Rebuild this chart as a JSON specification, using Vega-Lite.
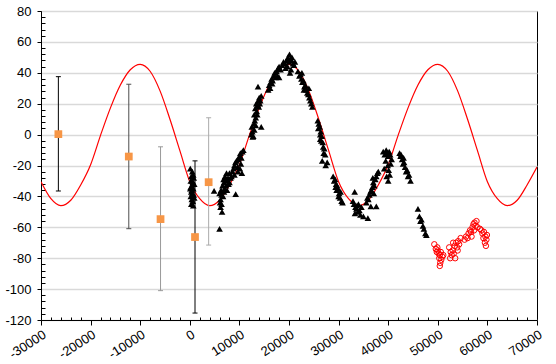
{
"$schema": "https://vega.github.io/schema/vega-lite/v6.json",
"width": 496, "height": 309, "autosize": "none",
"padding": {"left": 41, "top": 11, "right": 19, "bottom": 44},
"background": "white",
"config": {"view": {"stroke": "black", "strokeWidth": 1},
  "axis": {"labelFont": "Liberation Sans", "labelFontSize": 13, "labelColor": "black", "domainColor": "black", "tickColor": "black", "domainWidth": 1, "tickWidth": 1}},
"datasets": {
"curve": [
{"x":-30000,"y":-30.5},{"x":-28000,"y":-41.5},{"x":-26000,"y":-46},{"x":-24000,"y":-42.5},{"x":-22000,"y":-32.6},{"x":-20000,"y":-19.5},{"x":-18000,"y":-0.5},{"x":-16000,"y":17.3},{"x":-14000,"y":32.1},{"x":-12000,"y":42},{"x":-10000,"y":45.5},{"x":-8000,"y":41},{"x":-6000,"y":28.3},{"x":-4000,"y":9.9},{"x":-2000,"y":-10.4},{"x":0,"y":-30.5},{"x":2000,"y":-41.5},{"x":4000,"y":-46},{"x":6000,"y":-42.5},{"x":8000,"y":-32.6},{"x":10000,"y":-19.5},{"x":12000,"y":-0.5},{"x":14000,"y":17.3},{"x":16000,"y":32.1},{"x":18000,"y":42},{"x":20000,"y":45.5},{"x":22000,"y":41},{"x":24000,"y":28.3},{"x":26000,"y":9.9},{"x":28000,"y":-10.4},{"x":30000,"y":-30.5},{"x":32000,"y":-41.5},{"x":34000,"y":-46},{"x":36000,"y":-42.5},{"x":38000,"y":-32.6},{"x":40000,"y":-19.5},{"x":42000,"y":-0.5},{"x":44000,"y":17.3},{"x":46000,"y":32.1},{"x":48000,"y":42},{"x":50000,"y":45.5},{"x":52000,"y":41},{"x":54000,"y":28.3},{"x":56000,"y":9.9},{"x":58000,"y":-10.4},{"x":60000,"y":-30.5},{"x":62000,"y":-41.5},{"x":64000,"y":-46},{"x":66000,"y":-42.5},{"x":68000,"y":-32.6},{"x":70000,"y":-21}
],
"tri": [
{"x":100,"y":-22},{"x":500,"y":-24},{"x":300,"y":-27},{"x":800,"y":-28},{"x":200,"y":-30},{"x":600,"y":-31},{"x":400,"y":-33},{"x":900,"y":-32},{"x":100,"y":-35},{"x":700,"y":-35},{"x":300,"y":-37},{"x":500,"y":-38},{"x":200,"y":-40},{"x":800,"y":-39},{"x":400,"y":-42},{"x":600,"y":-43},{"x":300,"y":-45},{"x":700,"y":-46},{"x":500,"y":-30},{"x":200,"y":-34},{"x":700,"y":-26},{"x":400,"y":-36},{"x":900,"y":-41},
{"x":4900,"y":-36.5},{"x":6000,"y":-61},{"x":9250,"y":-38.6},{"x":6000,"y":-38},{"x":6200,"y":-42},{"x":6400,"y":-45},{"x":6200,"y":-47},{"x":6500,"y":-50},{"x":6100,"y":-44},{"x":6700,"y":-40},{"x":6300,"y":-36},{"x":6600,"y":-33},{"x":6900,"y":-31},{"x":7200,"y":-29},{"x":7400,"y":-25},{"x":7000,"y":-35},{"x":7300,"y":-33},{"x":7600,"y":-30},{"x":7100,"y":-27},{"x":6800,"y":-29},{"x":7500,"y":-36},{"x":7800,"y":-32},{"x":8000,"y":-31},{"x":8200,"y":-28},{"x":8400,"y":-27},{"x":8000,"y":-25},{"x":8600,"y":-24},{"x":8800,"y":-22},{"x":9000,"y":-20},{"x":9200,"y":-18},{"x":9400,"y":-17},{"x":9000,"y":-26},{"x":9600,"y":-21},{"x":9800,"y":-16},{"x":10000,"y":-14},{"x":10200,"y":-12},{"x":10400,"y":-15},{"x":10600,"y":-11},{"x":10800,"y":-10},{"x":10300,"y":-19},{"x":10100,"y":-22},{"x":9700,"y":-24},{"x":10500,"y":-25},{"x":6400,"y":-39},{"x":6900,"y":-37},{"x":7700,"y":-28},
{"x":12400,"y":0},{"x":12600,"y":2},{"x":12800,"y":-1},{"x":12500,"y":5},{"x":12900,"y":7},{"x":13100,"y":9},{"x":13300,"y":11},{"x":13000,"y":13},{"x":13500,"y":15},{"x":13200,"y":17},{"x":13700,"y":19},{"x":13400,"y":20},{"x":13800,"y":22},{"x":14000,"y":24},{"x":14200,"y":22},{"x":13600,"y":13},{"x":14400,"y":25},{"x":13750,"y":31},{"x":14400,"y":5},{"x":13000,"y":3},{"x":12700,"y":-1.5},{"x":13900,"y":18},{"x":13300,"y":6},{"x":14100,"y":20},
{"x":15800,"y":29},{"x":16000,"y":32},{"x":16200,"y":30},{"x":16300,"y":34},{"x":16500,"y":36},{"x":16700,"y":35},{"x":16900,"y":38},{"x":17100,"y":40},{"x":17300,"y":37},{"x":17500,"y":41},{"x":17800,"y":43},{"x":18000,"y":44},{"x":17700,"y":38},{"x":18300,"y":42},{"x":18600,"y":45},{"x":18900,"y":47},{"x":19200,"y":46},{"x":19500,"y":48},{"x":19800,"y":50},{"x":20100,"y":52},{"x":20300,"y":49},{"x":20000,"y":47},{"x":20500,"y":48},{"x":20800,"y":46},{"x":21000,"y":45},{"x":19700,"y":44},{"x":20400,"y":42},{"x":20200,"y":40},{"x":19300,"y":43},{"x":21200,"y":47},{"x":20600,"y":50},{"x":18000,"y":37},{"x":16600,"y":33},
{"x":21800,"y":41},{"x":22100,"y":38},{"x":22300,"y":39},{"x":22500,"y":36},{"x":22700,"y":34},{"x":22900,"y":35},{"x":23100,"y":31},{"x":23300,"y":32},{"x":23500,"y":29},{"x":23700,"y":27},{"x":23900,"y":26},{"x":24100,"y":24},{"x":24300,"y":22},{"x":24500,"y":20},{"x":24700,"y":18},{"x":22600,"y":40},{"x":23000,"y":29},{"x":24000,"y":30},
{"x":25800,"y":9},{"x":26000,"y":7},{"x":25900,"y":4},{"x":26200,"y":5},{"x":26400,"y":2},{"x":26300,"y":0},{"x":26600,"y":-1},{"x":26500,"y":-4},{"x":26800,"y":-5},{"x":26900,"y":-8},{"x":27100,"y":-9},{"x":27000,"y":-12},{"x":27300,"y":-13},{"x":26700,"y":-17},{"x":27400,"y":-20},{"x":27700,"y":-18},{"x":26300,"y":-3},
{"x":28900,"y":-27},{"x":29100,"y":-30},{"x":29300,"y":-29},{"x":29500,"y":-32},{"x":29700,"y":-33},{"x":29600,"y":-36},{"x":29900,"y":-35},{"x":30100,"y":-38},{"x":30000,"y":-40},{"x":30300,"y":-41},{"x":30600,"y":-43},{"x":30400,"y":-37},{"x":29400,"y":-34},{"x":30800,"y":-44},
{"x":32900,"y":-43},{"x":33100,"y":-45},{"x":33400,"y":-47},{"x":33600,"y":-48},{"x":33900,"y":-50},{"x":34200,"y":-49},{"x":34400,"y":-52},{"x":33700,"y":-46},{"x":34000,"y":-45},{"x":33300,"y":-51},{"x":34600,"y":-47},{"x":33240,"y":-37},{"x":35000,"y":-53},
{"x":35600,"y":-44},{"x":35800,"y":-41},{"x":36000,"y":-42},{"x":36200,"y":-39},{"x":36400,"y":-37},{"x":36600,"y":-36},{"x":36800,"y":-34},{"x":37000,"y":-31},{"x":37200,"y":-33},{"x":37400,"y":-29},{"x":37600,"y":-27},{"x":37800,"y":-25},{"x":38000,"y":-24},{"x":36500,"y":-46.5},{"x":37600,"y":-46.5},{"x":35900,"y":-54},{"x":37100,"y":-38},{"x":36900,"y":-28},
{"x":39000,"y":-11},{"x":39300,"y":-13},{"x":39600,"y":-10},{"x":39800,"y":-12},{"x":40000,"y":-14},{"x":40200,"y":-11},{"x":39500,"y":-17},{"x":39900,"y":-20},{"x":40100,"y":-23},{"x":40300,"y":-26},{"x":40500,"y":-19},{"x":40700,"y":-16},{"x":39700,"y":-27},{"x":40000,"y":-30},{"x":40400,"y":-13},{"x":39200,"y":-22},
{"x":42300,"y":-12},{"x":42500,"y":-14},{"x":42800,"y":-16},{"x":43000,"y":-19},{"x":43200,"y":-18},{"x":43400,"y":-21},{"x":43600,"y":-24},{"x":43800,"y":-23},{"x":44000,"y":-27},{"x":44200,"y":-26},{"x":44500,"y":-30},{"x":42600,"y":-13},{"x":43100,"y":-15},
{"x":46000,"y":-48},{"x":46300,"y":-53},{"x":46500,"y":-56},{"x":46700,"y":-55},{"x":47000,"y":-59},{"x":47200,"y":-61},{"x":47500,"y":-64},{"x":47700,"y":-65}
],
"circ": [
{"x":49300,"y":-71},{"x":49600,"y":-74},{"x":49800,"y":-76},{"x":50000,"y":-75},{"x":50200,"y":-77},{"x":50400,"y":-78},{"x":50600,"y":-76},{"x":50300,"y":-80},{"x":50500,"y":-83},{"x":50700,"y":-81},{"x":50900,"y":-79},{"x":51100,"y":-78},{"x":50400,"y":-85},{"x":49900,"y":-73},
{"x":52300,"y":-73},{"x":52600,"y":-76},{"x":52800,"y":-78},{"x":53000,"y":-75},{"x":53200,"y":-77},{"x":53400,"y":-72},{"x":53700,"y":-70},{"x":53900,"y":-73},{"x":54100,"y":-69},{"x":54300,"y":-71},{"x":54600,"y":-67},{"x":53500,"y":-80},{"x":52500,"y":-80},{"x":53100,"y":-70},{"x":54000,"y":-75},
{"x":55400,"y":-68},{"x":55700,"y":-66},{"x":56000,"y":-67},{"x":56200,"y":-64},{"x":56500,"y":-62},{"x":56700,"y":-63},{"x":57000,"y":-60},{"x":57200,"y":-58},{"x":57400,"y":-57},{"x":57600,"y":-59},{"x":57800,"y":-56},{"x":58000,"y":-60},{"x":57300,"y":-62},{"x":56800,"y":-66},
{"x":58500,"y":-61},{"x":58800,"y":-62},{"x":59000,"y":-64},{"x":59300,"y":-63},{"x":59600,"y":-66},{"x":59800,"y":-68},{"x":59500,"y":-70},{"x":59200,"y":-67},{"x":59900,"y":-65},{"x":59700,"y":-72}
],
"err": [
{"bar":"a","x":-26500,"y":0.3,"lo":-36.5,"hi":37.5},
{"bar":"b","x":-12300,"y":-14.2,"lo":-60.9,"hi":32.6},
{"bar":"c","x":-5900,"y":-54.7,"lo":-101,"hi":-7.9},
{"bar":"d","x":1050,"y":-66.3,"lo":-115.5,"hi":-17},
{"bar":"e","x":3800,"y":-30.8,"lo":-71.5,"hi":10.9}
]
},
"encoding": {
  "x": {"field": "x", "type": "quantitative", "title": null,
    "scale": {"domain": [-30000, 70000], "nice": false, "zero": false},
    "axis": {"values": [-30000,-28000,-26000,-24000,-22000,-20000,-18000,-16000,-14000,-12000,-10000,-8000,-6000,-4000,-2000,0,2000,4000,6000,8000,10000,12000,14000,16000,18000,20000,22000,24000,26000,28000,30000,32000,34000,36000,38000,40000,42000,44000,46000,48000,50000,52000,54000,56000,58000,60000,62000,64000,66000,68000,70000],
      "format": "d", "labelExpr": "datum.value % 10000 === 0 ? '' + datum.value : ''",
      "grid": false, "labelAngle": -33, "labelAlign": "right", "labelBaseline": "top", "labelPadding": 3,
      "tickSize": {"condition": {"test": "datum.value % 10000 === 0", "value": 5}, "value": -3},
      "labelOverlap": false, "labelFlush": false}},
  "y": {"field": "y", "type": "quantitative", "title": null,
    "scale": {"domain": [-120, 80], "nice": false, "zero": false},
    "axis": {"values": [-120,-116,-112,-108,-104,-100,-96,-92,-88,-84,-80,-76,-72,-68,-64,-60,-56,-52,-48,-44,-40,-36,-32,-28,-24,-20,-16,-12,-8,-4,0,4,8,12,16,20,24,28,32,36,40,44,48,52,56,60,64,68,72,76,80],
      "labelExpr": "datum.value % 20 === 0 ? '' + datum.value : ''",
      "gridColor": {"condition": {"test": "datum.value % 20 === 0", "value": "#d9d9d9"}, "value": "transparent"},
      "gridWidth": 1.5,
      "tickSize": {"condition": {"test": "datum.value % 20 === 0", "value": 4}, "value": -4},
      "labelPadding": 6, "labelOverlap": false, "labelFlush": false}}
},
"layer": [
  {"data": {"name": "curve"}, "mark": {"type": "line", "color": "#ff0000", "strokeWidth": 1.2, "interpolate": "monotone", "clip": true}},
  {"data": {"name": "tri"}, "mark": {"type": "point", "shape": "triangle-up", "filled": true, "color": "black", "size": 44, "opacity": 1}},
  {"data": {"name": "circ"}, "mark": {"type": "point", "shape": "circle", "filled": false, "color": "#ff0000", "size": 30, "strokeWidth": 1, "opacity": 1}},
  {"data": {"name": "err"}, "mark": {"type": "rule", "strokeWidth": 1},
   "encoding": {"y": {"field": "lo", "type": "quantitative"}, "y2": {"field": "hi"},
     "color": {"field": "bar", "type": "nominal", "legend": null, "scale": {"domain": ["a","b","c","d","e"], "range": ["#000000","#4d4d4d","#999999","#000000","#aaaaaa"]}}}},
  {"data": {"name": "err"}, "mark": {"type": "tick", "orient": "horizontal", "size": 5, "thickness": 1, "opacity": 1},
   "encoding": {"y": {"field": "hi", "type": "quantitative"},
     "color": {"field": "bar", "type": "nominal", "legend": null}}},
  {"data": {"name": "err"}, "mark": {"type": "tick", "orient": "horizontal", "size": 5, "thickness": 1, "opacity": 1},
   "encoding": {"y": {"field": "lo", "type": "quantitative"},
     "color": {"field": "bar", "type": "nominal", "legend": null}}},
  {"data": {"name": "err"}, "mark": {"type": "square", "size": 60, "color": "#f79646", "opacity": 1}}
]
}
